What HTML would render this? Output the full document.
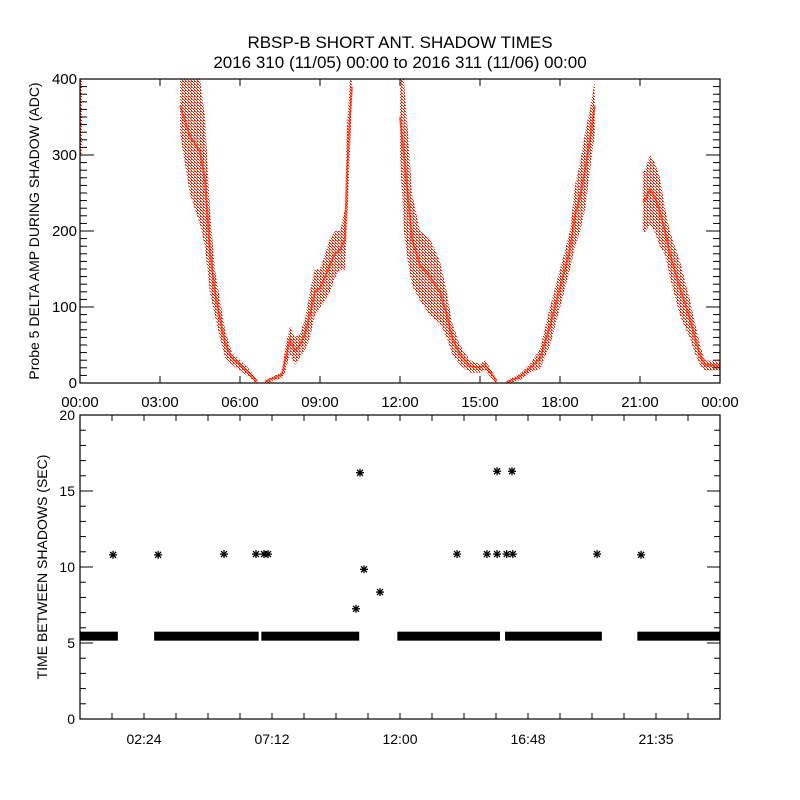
<!DOCTYPE html>
<html><head><meta charset="utf-8"><style>
body{margin:0;background:#fff}
svg{display:block}
text{font-family:"Liberation Sans",sans-serif;fill:#000}
</style></head><body>
<svg id="chart" width="800" height="800" viewBox="0 0 800 800">
<defs>
<pattern id="dots" width="3" height="3" patternUnits="userSpaceOnUse">
<rect x="0" y="0" width="1" height="1" fill="#ff2200"/><rect x="1" y="1" width="1" height="1" fill="#ff2200"/><rect x="2" y="2" width="1" height="1" fill="#ff2200"/><rect x="2" y="0" width="1" height="1" fill="#ff2200"/>
</pattern>
</defs>
<text x="400" y="48" text-anchor="middle" font-size="17">RBSP-B SHORT ANT. SHADOW TIMES</text>
<text x="400" y="68" text-anchor="middle" font-size="17">2016 310 (11/05) 00:00 to 2016 311 (11/06) 00:00</text>
<g id="topPanel"></g>
<g id="botPanel"></g>
</svg>
<script>
// ---- top panel data: envelope segments (hours, lower value, upper value)
const seg1T=[3.75,4.12,4.5,4.69,4.87,5.06,5.25,5.44,5.7,6.0,6.3,6.64];
const seg1Lo=[330,250,210,180,120,90,60,35,25,18,10,0];
const seg1Hi=[400,400,400,350,230,150,110,70,40,30,20,5];
const seg2T=[6.94,7.57,7.69,7.87,8.06,8.25,8.44,8.62,8.81,9.0,9.19,9.37,9.56,9.75,9.94,10.0,10.12,10.2];
const seg2Lo=[0,8,15,40,25,35,45,60,90,100,110,120,140,150,150,200,300,380];
const seg2Hi=[4,14,45,75,60,65,85,120,150,150,170,190,200,200,230,330,400,400];
const seg3T=[12.0,12.15,12.3,12.45,12.75,13.12,13.5,13.76,13.95,14.25,14.62,15.0,15.19,15.37,15.63];
const seg3Lo=[300,200,160,130,110,90,80,60,40,25,15,15,18,10,0];
const seg3Hi=[400,400,330,250,200,190,160,120,80,50,30,25,30,20,5];
const seg4T=[16.0,16.5,16.87,17.25,17.62,18.0,18.37,18.56,18.75,18.94,19.12,19.31];
const seg4Lo=[0,5,15,20,50,100,150,180,200,230,280,330];
const seg4Hi=[3,12,25,45,100,150,200,260,290,330,360,400];
const seg5T=[21.1,21.19,21.37,21.56,21.75,21.94,22.12,22.5,22.87,23.06,23.25,23.44,24.0];
const seg5Lo=[200,200,210,200,180,170,140,90,60,40,25,18,18];
const seg5Hi=[280,280,300,290,270,230,200,160,110,80,50,30,28];
const seg0T=[0,0.08];const seg0Lo=[300,300];const seg0Hi=[400,400];
const topXTicks=[0,3,6,9,12,15,18,21,24];
const topXLabels=["00:00","03:00","06:00","09:00","12:00","15:00","18:00","21:00","00:00"];
const topYTicks=[0,100,200,300,400];
// ---- bottom panel data
const bandStart=[0,2.78,6.8,11.9,15.94,20.9];
const bandEnd=[1.42,6.7,10.47,15.75,19.57,24.0];
const bandValue=[5.45,5.45,5.45,5.45,5.45,5.45];
const outT=[1.24,2.93,5.4,6.6,6.9,7.05,10.35,10.65,10.5,11.25,14.14,15.26,15.64,16.0,16.23,19.39,21.04,15.64,16.2];
const outV=[10.8,10.8,10.85,10.85,10.85,10.85,7.25,9.85,16.2,8.35,10.85,10.85,10.85,10.85,10.85,10.85,10.8,16.3,16.3];
const botXTicks=[2.4,7.2,12,16.8,21.6];
const botXLabels=["02:24","07:12","12:00","16:48","21:35"];
const botYTicks=[0,5,10,15,20];

const NS="http://www.w3.org/2000/svg";
function mk(tag,attrs,parent){const e=document.createElementNS(NS,tag);for(const k in attrs)e.setAttribute(k,attrs[k]);parent.appendChild(e);return e;}
const X0=80,X1=720;
const xs=h=>X0+(X1-X0)*h/24;
const T0=79,T1=383,yT=v=>T1-(T1-T0)*v/400;
const B0=415,B1=719,yB=v=>B1-(B1-B0)*v/20;
const topG=document.getElementById('topPanel'),botG=document.getElementById('botPanel');

// top series
const segs=[[seg0T,seg0Lo,seg0Hi],[seg1T,seg1Lo,seg1Hi],[seg2T,seg2Lo,seg2Hi],[seg3T,seg3Lo,seg3Hi],[seg4T,seg4Lo,seg4Hi],[seg5T,seg5Lo,seg5Hi]];
segs.forEach((s,i)=>{
  const [t,lo,hi]=s;let pts=[];
  for(let j=0;j<t.length;j++)pts.push(xs(t[j]).toFixed(1)+','+yT(hi[j]).toFixed(1));
  for(let j=t.length-1;j>=0;j--)pts.push(xs(t[j]).toFixed(1)+','+(yT(lo[j])+1).toFixed(1));
  const p=mk('polygon',{points:pts.join(' '),fill:'url(#dots)'},topG);
  
  
  let c=[];for(let j=0;j<t.length;j++)c.push(xs(t[j]).toFixed(1)+','+yT((lo[j]+hi[j])/2).toFixed(1));
  const l=mk('polyline',{points:c.join(' '),fill:'none',stroke:'#ff2200','stroke-width':2,'stroke-opacity':0.7},topG);
  
  
});
// top axes
const fr=mk('rect',{x:X0,y:T0,width:X1-X0,height:T1-T0,fill:'none',stroke:'#000','stroke-width':1.2},topG);


topXTicks.forEach((h,i)=>{
  mk('line',{x1:xs(h),x2:xs(h),y1:T1,y2:T1-7,stroke:'#000'},topG);
  mk('line',{x1:xs(h),x2:xs(h),y1:T0,y2:T0+7,stroke:'#000'},topG);
  const t=mk('text',{x:xs(h),y:T1+24,'text-anchor':'middle','font-size':15},topG);t.textContent=topXLabels[i];
  
  
});
for(let v=0;v<=400;v+=10){const L=v%100==0?14:7;
  mk('line',{x1:X0,x2:X0+L,y1:yT(v),y2:yT(v),stroke:'#000'},topG);
  mk('line',{x1:X1,x2:X1-L,y1:yT(v),y2:yT(v),stroke:'#000'},topG);}
topYTicks.forEach(v=>{const t=mk('text',{x:X0-3,y:yT(v)+5,'text-anchor':'end','font-size':15},topG);t.textContent=v;
  
  });
const tyl=mk('text',{x:0,y:0,'text-anchor':'middle','font-size':14,transform:'translate(39,231) rotate(-90)'},topG);
tyl.textContent='Probe 5 DELTA AMP DURING SHADOW (ADC)';



// bottom series
bandStart.forEach((s,i)=>{
  const r=mk('rect',{x:xs(bandStart[i]),y:yB(bandValue[i])-4.5,width:xs(bandEnd[i])-xs(bandStart[i]),height:9,fill:'#000'},botG);
  
  
});
function star(cx,cy,i){const g=mk('g',{stroke:'#000','stroke-width':1.3},botG);
  
  
  mk('line',{x1:cx-4,x2:cx+4,y1:cy,y2:cy},g);mk('line',{x1:cx,x2:cx,y1:cy-4,y2:cy+4},g);
  mk('line',{x1:cx-3,x2:cx+3,y1:cy-3,y2:cy+3},g);mk('line',{x1:cx-3,x2:cx+3,y1:cy+3,y2:cy-3},g);}
outT.forEach((h,i)=>star(xs(h),yB(outV[i]),i));
const fb=mk('rect',{x:X0,y:B0,width:X1-X0,height:B1-B0,fill:'none',stroke:'#000','stroke-width':1.2},botG);


for(let h=1.2;h<24;h+=1.2){mk('line',{x1:xs(h),x2:xs(h),y1:B1,y2:B1-6,stroke:'#000'},botG);mk('line',{x1:xs(h),x2:xs(h),y1:B0,y2:B0+6,stroke:'#000'},botG);}
botXTicks.forEach((h,i)=>{const t=mk('text',{x:xs(h),y:B1+25,'text-anchor':'middle','font-size':14},botG);t.textContent=botXLabels[i];
  
  });
for(let v=0;v<=20;v++){const L=v%5==0?13:6;
  mk('line',{x1:X0,x2:X0+L,y1:yB(v),y2:yB(v),stroke:'#000'},botG);
  mk('line',{x1:X1,x2:X1-L,y1:yB(v),y2:yB(v),stroke:'#000'},botG);}
botYTicks.forEach(v=>{const t=mk('text',{x:X0-5,y:yB(v)+5,'text-anchor':'end','font-size':14},botG);t.textContent=v;
  
  });
const byl=mk('text',{x:0,y:0,'text-anchor':'middle','font-size':14,transform:'translate(47,567) rotate(-90)'},botG);
byl.textContent='TIME BETWEEN SHADOWS (SEC)';


</script>
</body></html>
